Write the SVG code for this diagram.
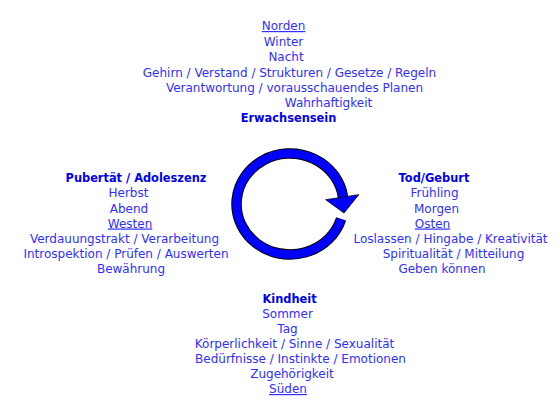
<svg xmlns="http://www.w3.org/2000/svg" width="560" height="415" viewBox="0 0 560 415">
  <style>
    text { font-family: "DejaVu Sans", Verdana, sans-serif; font-size: 12px; fill: #2f2fff; text-anchor: middle; }
    text.b { font-weight: bold; fill: #0000f0; font-size: 11.4px; }
    text.u { text-decoration: underline; }
  </style>
  <rect width="560" height="415" fill="#ffffff"/>
  <g id="connectors">
    <path d="M 341.1 219 A 53.5 50.5 0 1 1 343 197" fill="none" stroke="#000000" stroke-width="10.5"/>
    <path d="M 341.1 219 A 53.5 50.5 0 1 1 343 197" fill="none" stroke="#0000ff" stroke-width="8.5"/>
    <polygon points="325.7,199.7 358.7,194.7 344,213" fill="#0000ff" stroke="#000000" stroke-width="0.8" stroke-linejoin="miter"/>
  </g>
  <g id="node-north">
    <text class="u" x="283.5" y="30">Norden</text>
    <text x="283.5" y="45.5">Winter</text>
    <text x="286" y="61">Nacht</text>
    <text x="289.5" y="76.5">Gehirn / Verstand / Strukturen / Gesetze / Regeln</text>
    <text x="294.5" y="91.5">Verantwortung / vorausschauendes Planen</text>
    <text x="328.5" y="107">Wahrhaftigkeit</text>
    <text class="b" x="288.5" y="122">Erwachsensein</text>
  </g>
  <g id="node-west">
    <text class="b" x="136" y="182">Pubertät / Adoleszenz</text>
    <text x="128.5" y="197">Herbst</text>
    <text x="129" y="212.5">Abend</text>
    <text class="u" x="130" y="227.5">Westen</text>
    <text x="124.5" y="243">Verdauungstrakt / Verarbeitung</text>
    <text x="126" y="258">Introspektion / Prüfen / Auswerten</text>
    <text x="131" y="273">Bewährung</text>
  </g>
  <g id="node-east">
    <text class="b" x="434" y="182">Tod/Geburt</text>
    <text x="434.5" y="197">Frühling</text>
    <text x="436.5" y="212.5">Morgen</text>
    <text class="u" x="432.5" y="227.5">Osten</text>
    <text x="450.5" y="243">Loslassen / Hingabe / Kreativität</text>
    <text x="453.5" y="258">Spiritualität / Mitteilung</text>
    <text x="442" y="273">Geben können</text>
  </g>
  <g id="node-south">
    <text class="b" x="289.5" y="303">Kindheit</text>
    <text x="287.5" y="318">Sommer</text>
    <text x="287.5" y="333">Tag</text>
    <text x="294.5" y="348">Körperlichkeit / Sinne / Sexualität</text>
    <text x="300.5" y="363">Bedürfnisse / Instinkte / Emotionen</text>
    <text x="292" y="378">Zugehörigkeit</text>
    <text class="u" x="288" y="393">Süden</text>
  </g>
</svg>
